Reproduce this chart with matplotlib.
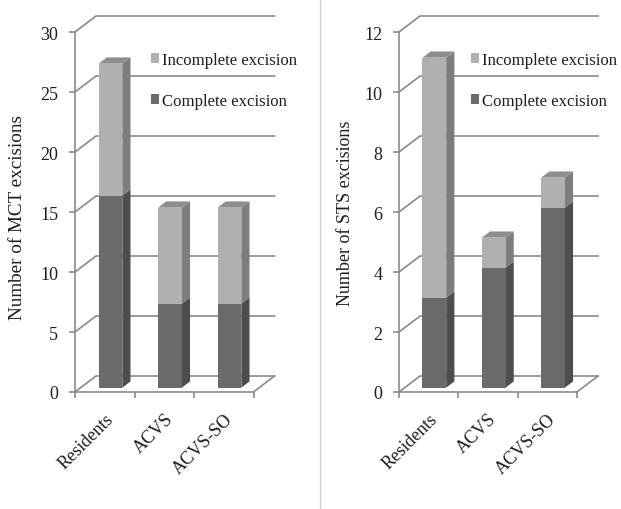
import matplotlib
matplotlib.use("Agg")
import matplotlib.pyplot as plt
from matplotlib.patches import Polygon, Patch
from matplotlib.lines import Line2D
import numpy as np

plt.rcParams['font.family'] = ['Liberation Serif', 'DejaVu Serif']

categories = ["Residents", "ACVS", "ACVS-SO"]
mct_complete = [16, 7, 7]
mct_incomplete = [11, 8, 8]
sts_complete = [3, 4, 6]
sts_incomplete = [8, 1, 1]
series_names = ["Incomplete excision", "Complete excision"]

W, H, DPI = 621, 510, 100
fig = plt.figure(figsize=(W / DPI, H / DPI), dpi=DPI)

# front, side, top shades for each stacked segment
SHADES = {
    "complete": ("#6a6a6a", "#4d4d4d", "#5a5a5a"),
    "incomplete": ("#b0b0b0", "#7d7d7d", "#8e8e8e"),
}
GRID = "#8a8a8a"
TEXT = "#1e1e1e"
FS = 12.1


def panel(left_px, right_px, ymax, ystep, complete, incomplete, ylabel,
          ylabel_x, ylabel_y, ylabel_fs, legend_x):
    bottom_px, top_px = 393, 33
    ax = fig.add_axes([left_px / W, (H - bottom_px) / H,
                       (right_px - left_px) / W, (bottom_px - top_px) / H])
    n = len(categories)
    ax.set_xlim(0, n)
    ax.set_ylim(0, ymax)
    ax.patch.set_visible(False)

    # oblique depth vector of the walls, expressed in data units
    ux = (right_px - left_px) / n
    uy = (bottom_px - top_px) / ymax
    DX, DY = 21 / ux, 16 / uy

    def P(x, y, z):
        return (x + z * DX, y + z * DY)

    # side-wall diagonals and back-wall gridlines
    for v in np.arange(0, ymax + ystep / 2, ystep):
        pts = [P(0, v, 0), P(0, v, 1), P(n, v, 1)]
        ax.add_line(Line2D(*zip(*pts), color=GRID, lw=1.2, clip_on=False,
                           zorder=1, solid_joinstyle="miter"))
    # floor right edge
    pts = [P(n, 0, 0), P(n, 0, 1)]
    ax.add_line(Line2D(*zip(*pts), color=GRID, lw=1.2, clip_on=False, zorder=1))

    # stacked 3-D columns
    zf, zb = 0.27, 0.66
    bw = 0.4
    for i in range(n):
        base = 0
        segs = [(complete[i], "complete"), (incomplete[i], "incomplete")]
        for k, (val, key) in enumerate(segs):
            front, side, top = SHADES[key]
            x0, x1 = i + 0.5 - bw / 2, i + 0.5 + bw / 2
            y0, y1 = base, base + val
            sx, sy = P(i + 0.5, y0, zf)
            ax.bar(sx, val, bottom=sy, width=bw, color=front, lw=0,
                   zorder=3, clip_on=False)
            ax.add_patch(Polygon([P(x1, y0, zf), P(x1, y1, zf),
                                  P(x1, y1, zb), P(x1, y0, zb)],
                                 closed=True, facecolor=side, lw=0,
                                 zorder=2.9, clip_on=False))
            if k == len(segs) - 1:
                ax.add_patch(Polygon([P(x0, y1, zf), P(x1, y1, zf),
                                      P(x1, y1, zb), P(x0, y1, zb)],
                                     closed=True, facecolor=top, lw=0,
                                     zorder=2.9, clip_on=False))
            base = y1

    # axes lines and ticks
    for s in ("top", "right"):
        ax.spines[s].set_visible(False)
    for s in ("left", "bottom"):
        ax.spines[s].set_color(GRID)
        ax.spines[s].set_linewidth(1.2)
        ax.spines[s].set_zorder(4)
    ax.set_yticks(np.arange(0, ymax + ystep / 2, ystep))
    ax.set_yticklabels([f"{int(v)}" for v in np.arange(0, ymax + ystep / 2, ystep)])
    ax.tick_params(axis="y", length=4, width=1.2, color=GRID, pad=8,
                   labelsize=13, labelcolor=TEXT)
    ax.set_xticks(np.arange(n) + 0.5)
    ax.set_xticklabels(categories, rotation=45, ha="right",
                       rotation_mode="anchor", fontsize=13, color=TEXT)
    ax.set_xticks(np.arange(n + 1), minor=True)
    ax.tick_params(axis="x", which="major", length=0, pad=13)
    ax.tick_params(axis="x", which="minor", length=4, width=1.2, color=GRID)

    fig.text(ylabel_x / W, 1 - ylabel_y / H, ylabel, rotation=90,
             ha="center", va="center", fontsize=ylabel_fs, color=TEXT)

    handles = [Patch(facecolor=SHADES["incomplete"][0]),
               Patch(facecolor=SHADES["complete"][0])]
    ax.legend(handles, series_names, loc="upper left",
              bbox_to_anchor=(legend_x / W, 1 - 53 / H),
              bbox_transform=fig.transFigure, frameon=False, fontsize=FS,
              handlelength=0.5, handleheight=0.5, handletextpad=0.15,
              labelspacing=1.5, borderpad=0, borderaxespad=0,
              labelcolor=TEXT)
    return ax


panel(75, 253.5, 30, 5, mct_complete, mct_incomplete,
      "Number of MCT excisions", 18, 218, 13.8, 151)
panel(399, 577, 12, 2, sts_complete, sts_incomplete,
      "Number of STS excisions", 345, 213, 13, 471)

# divider between the two panels
fig.add_artist(Line2D([320 / W, 320 / W], [0, 1], transform=fig.transFigure,
                      color="#d0d0d0", lw=1.0))

fig.savefig("out.png", dpi=DPI, facecolor="white")
